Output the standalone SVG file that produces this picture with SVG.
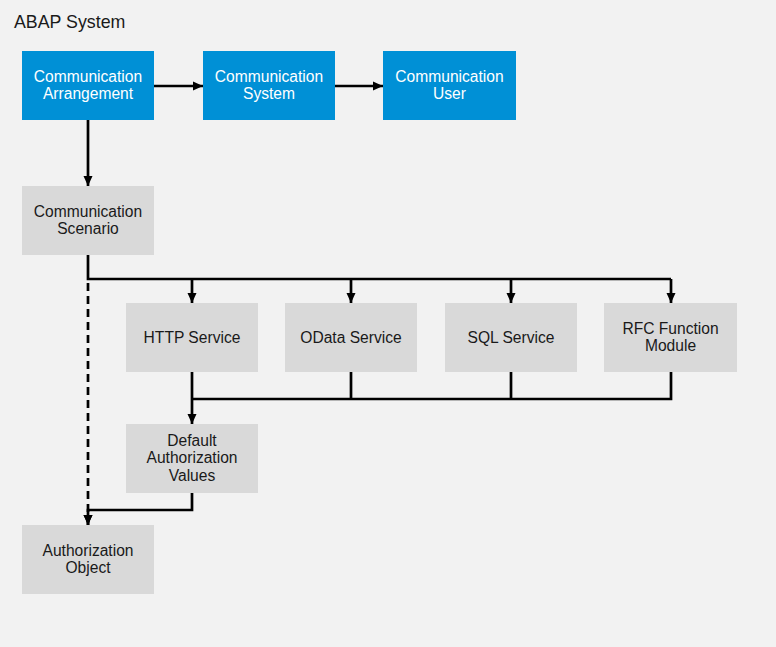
<svg xmlns="http://www.w3.org/2000/svg" width="776" height="647" viewBox="0 0 776 647">
<style>
.blue{fill:#0090d6}
.gray{fill:#d9d9d9}
.t{font-family:"Liberation Sans",Arial,sans-serif;font-size:15.6px;text-anchor:middle}
.tw{fill:#ffffff}
.tb{fill:#1a1a1a}
.c{fill:none;stroke:#000;stroke-width:2.7}
.d{stroke-dasharray:8 5}
</style>
<defs>
<marker id="ah" markerUnits="userSpaceOnUse" markerWidth="12" markerHeight="12" viewBox="0 0 12 12" refX="11" refY="6" orient="auto">
<path d="M1,1.5 L11,6 L1,10.5 Z" fill="#000"/>
</marker>
</defs>
<rect x="0" y="0" width="776" height="647" fill="#f2f2f2"/>
<text x="14" y="28" font-family="Liberation Sans,Arial,sans-serif" font-size="17.8" fill="#1a1a1a">ABAP System</text>

<g id="connectors">
<line class="c" x1="154" y1="86" x2="203" y2="86" marker-end="url(#ah)"/>
<line class="c" x1="335" y1="86" x2="383" y2="86" marker-end="url(#ah)"/>
<line class="c" x1="88" y1="120" x2="88" y2="186" marker-end="url(#ah)"/>
<polyline class="c" points="88,255 88,279 671,279"/>
<line class="c" x1="192" y1="279" x2="192" y2="303" marker-end="url(#ah)"/>
<line class="c" x1="351" y1="279" x2="351" y2="303" marker-end="url(#ah)"/>
<line class="c" x1="511" y1="279" x2="511" y2="303" marker-end="url(#ah)"/>
<line class="c" x1="671" y1="279" x2="671" y2="303" marker-end="url(#ah)"/>
<line class="c d" x1="88" y1="283" x2="88" y2="525" marker-end="url(#ah)"/>
<line class="c" x1="192" y1="372" x2="192" y2="424" marker-end="url(#ah)"/>
<polyline class="c" points="192,399 671,399 671,372"/>
<line class="c" x1="351" y1="372" x2="351" y2="399"/>
<line class="c" x1="511" y1="372" x2="511" y2="399"/>
<polyline class="c" points="192,493 192,510 88,510 88,525" marker-end="url(#ah)"/>
</g>

<g id="comm-arrangement">
<rect class="blue" x="22" y="51" width="132" height="69"/>
<text class="t tw" x="88" y="82">Communication</text>
<text class="t tw" x="88" y="99">Arrangement</text>
</g>
<g id="comm-system">
<rect class="blue" x="203" y="51" width="132" height="69"/>
<text class="t tw" x="269" y="82">Communication</text>
<text class="t tw" x="269" y="99">System</text>
</g>
<g id="comm-user">
<rect class="blue" x="383" y="51" width="133" height="69"/>
<text class="t tw" x="449.5" y="82">Communication</text>
<text class="t tw" x="449.5" y="99">User</text>
</g>
<g id="comm-scenario">
<rect class="gray" x="22" y="186" width="132" height="69"/>
<text class="t tb" x="88" y="217">Communication</text>
<text class="t tb" x="88" y="234">Scenario</text>
</g>
<g id="http-service">
<rect class="gray" x="126" y="303" width="132" height="69"/>
<text class="t tb" x="192" y="343">HTTP Service</text>
</g>
<g id="odata-service">
<rect class="gray" x="285" y="303" width="132" height="69"/>
<text class="t tb" x="351" y="343">OData Service</text>
</g>
<g id="sql-service">
<rect class="gray" x="445" y="303" width="132" height="69"/>
<text class="t tb" x="511" y="343">SQL Service</text>
</g>
<g id="rfc-module">
<rect class="gray" x="604" y="303" width="133" height="69"/>
<text class="t tb" x="670.5" y="334">RFC Function</text>
<text class="t tb" x="670.5" y="351">Module</text>
</g>
<g id="default-auth">
<rect class="gray" x="126" y="424" width="132" height="69"/>
<text class="t tb" x="192" y="446">Default</text>
<text class="t tb" x="192" y="463">Authorization</text>
<text class="t tb" x="192" y="481">Values</text>
</g>
<g id="auth-object">
<rect class="gray" x="22" y="525" width="132" height="69"/>
<text class="t tb" x="88" y="556">Authorization</text>
<text class="t tb" x="88" y="573">Object</text>
</g>
</svg>
